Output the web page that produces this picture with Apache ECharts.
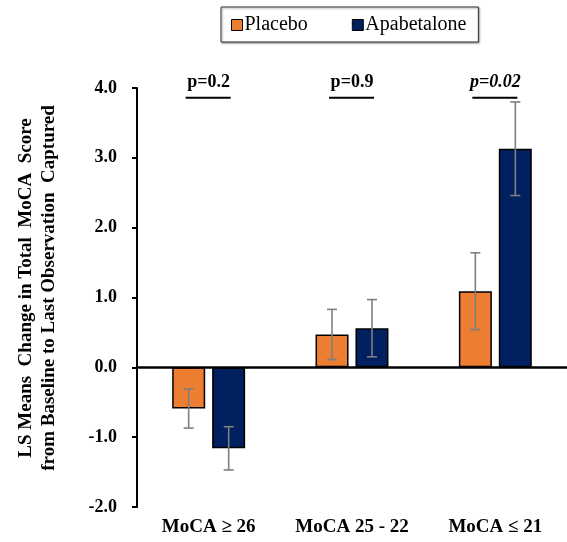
<!DOCTYPE html>
<html>
<head>
<meta charset="utf-8">
<script src="https://cdn.jsdelivr.net/npm/echarts@6/dist/echarts.min.js"></script>
<style>html,body{margin:0;padding:0;background:#fff;}#c{width:567px;height:542px;}</style>
</head>
<body>
<div id="c"></div>
<script>
const categories = ['MoCA \u2265 26', 'MoCA 25 - 22', 'MoCA \u2264 21'];
const placebo = [-0.59, 0.47, 1.09];
const placeboErr = [0.28, 0.36, 0.55];
const apabetalone = [-1.16, 0.56, 3.13];
const apabetaloneErr = [0.31, 0.41, 0.67];
const pLabels = ['p=0.2', 'p=0.9', 'p=0.02'];
const pItalic = [false, false, true];
const pLevel = 3.86;
const yTicks = {min: -2, max: 4, interval: 1};

const FONT = "'Liberation Serif', 'Times New Roman', serif";
const chart = echarts.init(document.getElementById('c'));

function errSeries(name, vals, errs, offset) {
  return {
    type: 'custom', name: name + ' err', z: 5, silent: true,
    data: vals.map((v, i) => [i, v, errs[i]]),
    encode: {x: 0, y: 1},
    renderItem: function (params, api) {
      const i = api.value(0), v = api.value(1), e = api.value(2);
      const top = api.coord([i, v + e]);
      const bot = api.coord([i, v - e]);
      const x = top[0] + offset;
      const cap = 5;
      const st = {stroke: '#7f7f7f', lineWidth: 1.6};
      return {type: 'group', children: [
        {type: 'line', shape: {x1: x, y1: top[1], x2: x, y2: bot[1]}, style: st},
        {type: 'line', shape: {x1: x - cap, y1: top[1], x2: x + cap, y2: top[1]}, style: st},
        {type: 'line', shape: {x1: x - cap, y1: bot[1], x2: x + cap, y2: bot[1]}, style: st}
      ]};
    }
  };
}

const option = {
  animation: false,
  textStyle: {fontFamily: FONT},
  grid: {left: 137, right: 0, top: 88, bottom: 35, containLabel: false},
  legend: {
    data: ['Placebo', 'Apabetalone'],
    left: 221, top: 7,
    padding: [8, 12, 7, 10],
    itemGap: 44, itemWidth: 11, itemHeight: 11,
    icon: 'rect',
    borderColor: '#333', borderWidth: 1,
    shadowColor: 'rgba(0,0,0,0.4)', shadowBlur: 2, shadowOffsetX: 1, shadowOffsetY: 1,
    backgroundColor: '#fff',
    textStyle: {fontFamily: FONT, fontSize: 20, color: '#000', padding: [2, 0, 0, -3]},
    itemStyle: {borderColor: '#000', borderWidth: 1}
  },
  xAxis: {
    type: 'category', data: categories,
    axisLine: {show: false}, axisTick: {show: false},
    axisLabel: {interval: 0, hideOverlap: false, fontFamily: FONT, fontSize: 19, fontWeight: 'bold', color: '#000', margin: 11}
  },
  yAxis: {
    type: 'value', min: yTicks.min, max: yTicks.max, interval: yTicks.interval,
    axisLine: {show: true, lineStyle: {color: '#000', width: 2}},
    axisTick: {show: true, length: 5, lineStyle: {color: '#000', width: 2}},
    splitLine: {show: false},
    axisLabel: {fontFamily: FONT, fontSize: 18, fontWeight: 'bold', color: '#000', margin: 20,
      formatter: v => v.toFixed(1)}
  },
  graphic: [{
    type: 'text', x: 38, y: 288, rotation: Math.PI / 2,
    style: {
      text: 'LS Means  Change in Total  MoCA  Score\nfrom Baseline to Last Observation  Captured',
      fontFamily: FONT, fontSize: 19, fontWeight: 'bold', fill: '#000',
      align: 'center', verticalAlign: 'middle', lineHeight: 23
    }
  }],
  series: [
    {
      name: 'Placebo', type: 'bar', data: placebo, barWidth: 33, barGap: '21%',
      itemStyle: {color: '#ED7D31', borderColor: '#000', borderWidth: 1.5},
      markLine: {
        silent: true, symbol: 'none', label: {show: false},
        lineStyle: {color: '#000', width: 2.5, type: 'solid'},
        data: [{yAxis: 0}], z: 10
      }
    },
    {
      name: 'Apabetalone', type: 'bar', data: apabetalone, barWidth: 33,
      itemStyle: {color: '#002060', borderColor: '#000', borderWidth: 1.5}
    },
    errSeries('Placebo', placebo, placeboErr, -20),
    errSeries('Apabetalone', apabetalone, apabetaloneErr, 20),
    {
      type: 'custom', name: 'pvals', silent: true,
      data: categories.map((c, i) => [i, pLevel]),
      encode: {x: 0, y: 1},
      renderItem: function (params, api) {
        const i = params.dataIndex;
        const p = api.coord([api.value(0), api.value(1)]);
        return {type: 'group', children: [
          {type: 'line', shape: {x1: p[0] - 23, y1: p[1], x2: p[0] + 22, y2: p[1]},
            style: {stroke: '#000', lineWidth: 2}},
          {type: 'text', x: p[0], y: p[1] - 6,
            style: {text: pLabels[i], fontFamily: FONT, fontSize: 18, fontWeight: 'bold',
              fontStyle: pItalic[i] ? 'italic' : 'normal', fill: '#000',
              align: 'center', verticalAlign: 'bottom'}}
        ]};
      }
    }
  ]
};
chart.setOption(option);
</script>
</body>
</html>
